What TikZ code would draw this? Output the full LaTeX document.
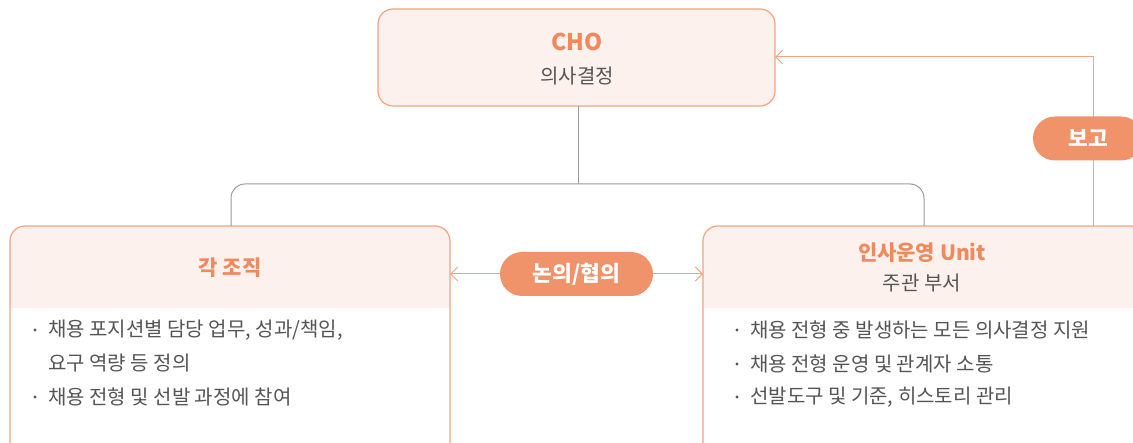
\documentclass[tikz,border=0pt]{standalone}
\usepackage{fontspec}
\setmainfont{Noto Sans CJK KR}
\usetikzlibrary{arrows.meta}
\definecolor{boxfill}{HTML}{FCF1EC}
\definecolor{boxline}{HTML}{F5A37F}
\definecolor{orangetxt}{HTML}{F08A5D}
\definecolor{pillfill}{HTML}{F0936B}
\definecolor{graytxt}{HTML}{555555}
\definecolor{grayline}{HTML}{9A9A9A}
\tikzset{
  orgbox/.style={draw=boxline, line width=1.2pt, rounded corners=15pt},
  titletxt/.style={text=orangetxt, font=\fontsize{21}{24}\selectfont\bfseries, inner sep=0pt},
  subtxt/.style={text=graytxt, font=\fontsize{20}{22}\selectfont, inner sep=0pt},
  itemtxt/.style={text=graytxt, font=\fontsize{20}{22}\selectfont, inner sep=0pt, anchor=west},
  bul/.style={fill=graytxt, circle, inner sep=0pt, minimum size=3.2pt},
  pill/.style={fill=pillfill, rounded corners=22pt, text=white, font=\fontsize{21.5}{24}\selectfont\bfseries, inner sep=0pt, minimum height=44pt},
  conn/.style={draw=grayline, line width=1pt, rounded corners=14pt},
  oline/.style={draw=boxline, line width=1pt},
  oarrow/.style={oline, -{Straight Barb[length=7pt,width=14pt,line width=1pt]}}
}
\begin{document}
\begin{tikzpicture}[x=1pt,y=-1pt]
\useasboundingbox (0,0) rectangle (1133,443);
\begin{scope}
\clip (0,0) rectangle (1133,443);
% CHO box
\filldraw[orgbox, fill=boxfill] (378,9) rectangle (775,106);
\node[titletxt, font=\fontsize{23}{26}\selectfont\bfseries] (cho) at (577,42) {CHO};
\node[subtxt] (chosub) at (577,76) {의사결정};
\coordinate (choB) at (578,106);
\coordinate (choR) at (775,57);
% left box
\begin{scope}
\clip[rounded corners=15pt] (10,226) rectangle (450,460);
\fill[white] (10,226) rectangle (450,460);
\fill[boxfill] (10,226) rectangle (450,308);
\end{scope}
\draw[orgbox] (10,226) rectangle (450,460);
\coordinate (lT) at (231,226);
\coordinate (lR) at (450,274);
\node[titletxt] (ltitle) at (230,268) {각 조직};
\node[bul] (lb1) at (35,330) {};
\node[itemtxt] (l1) at (48,330) {채용 포지션별 담당 업무, 성과/책임,};
\node[itemtxt] (l1b) at (48,363) {요구 역량 등 정의};
\node[bul] (lb2) at (35,397) {};
\node[itemtxt] (l2) at (48,397) {채용 전형 및 선발 과정에 참여};
% right box
\begin{scope}
\clip[rounded corners=15pt] (703,226) rectangle (1145,460);
\fill[white] (703,226) rectangle (1145,460);
\fill[boxfill] (703,226) rectangle (1145,308);
\end{scope}
\draw[orgbox] (703,226) rectangle (1145,460);
\coordinate (rT) at (924,226);
\coordinate (rL) at (703,274);
\coordinate (rT2) at (1093,226);
\node[titletxt] (rtitle) at (922,253) {인사운영 Unit};
\node[subtxt] (rsub) at (922,283) {주관 부서};
\node[bul] (rb1) at (737,330) {};
\node[itemtxt] (r1) at (750,330) {채용 전형 중 발생하는 모든 의사결정 지원};
\node[bul] (rb2) at (737,364) {};
\node[itemtxt] (r2) at (750,364) {채용 전형 운영 및 관계자 소통};
\node[bul] (rb3) at (737,397) {};
\node[itemtxt] (r3) at (750,397) {선발도구 및 기준, 히스토리 관리};
% gray connector
\draw[conn] (choB) -- (578,184);
\draw[conn] (lT) |- (578,184) -| (rT);
% 논의/협의
\node[pill, minimum width=153pt] (talk) at (576.5,274) {논의/협의};
\draw[oarrow] (talk.west) -- (lR);
\draw[oarrow] (talk.east) -- (rL);
% 보고
\draw[oarrow] (rT2) -- (1093,57) -- (choR);
\node[pill, minimum width=110pt] (report) at (1088,138.5) {보고};
\end{scope}
\end{tikzpicture}
\end{document}
